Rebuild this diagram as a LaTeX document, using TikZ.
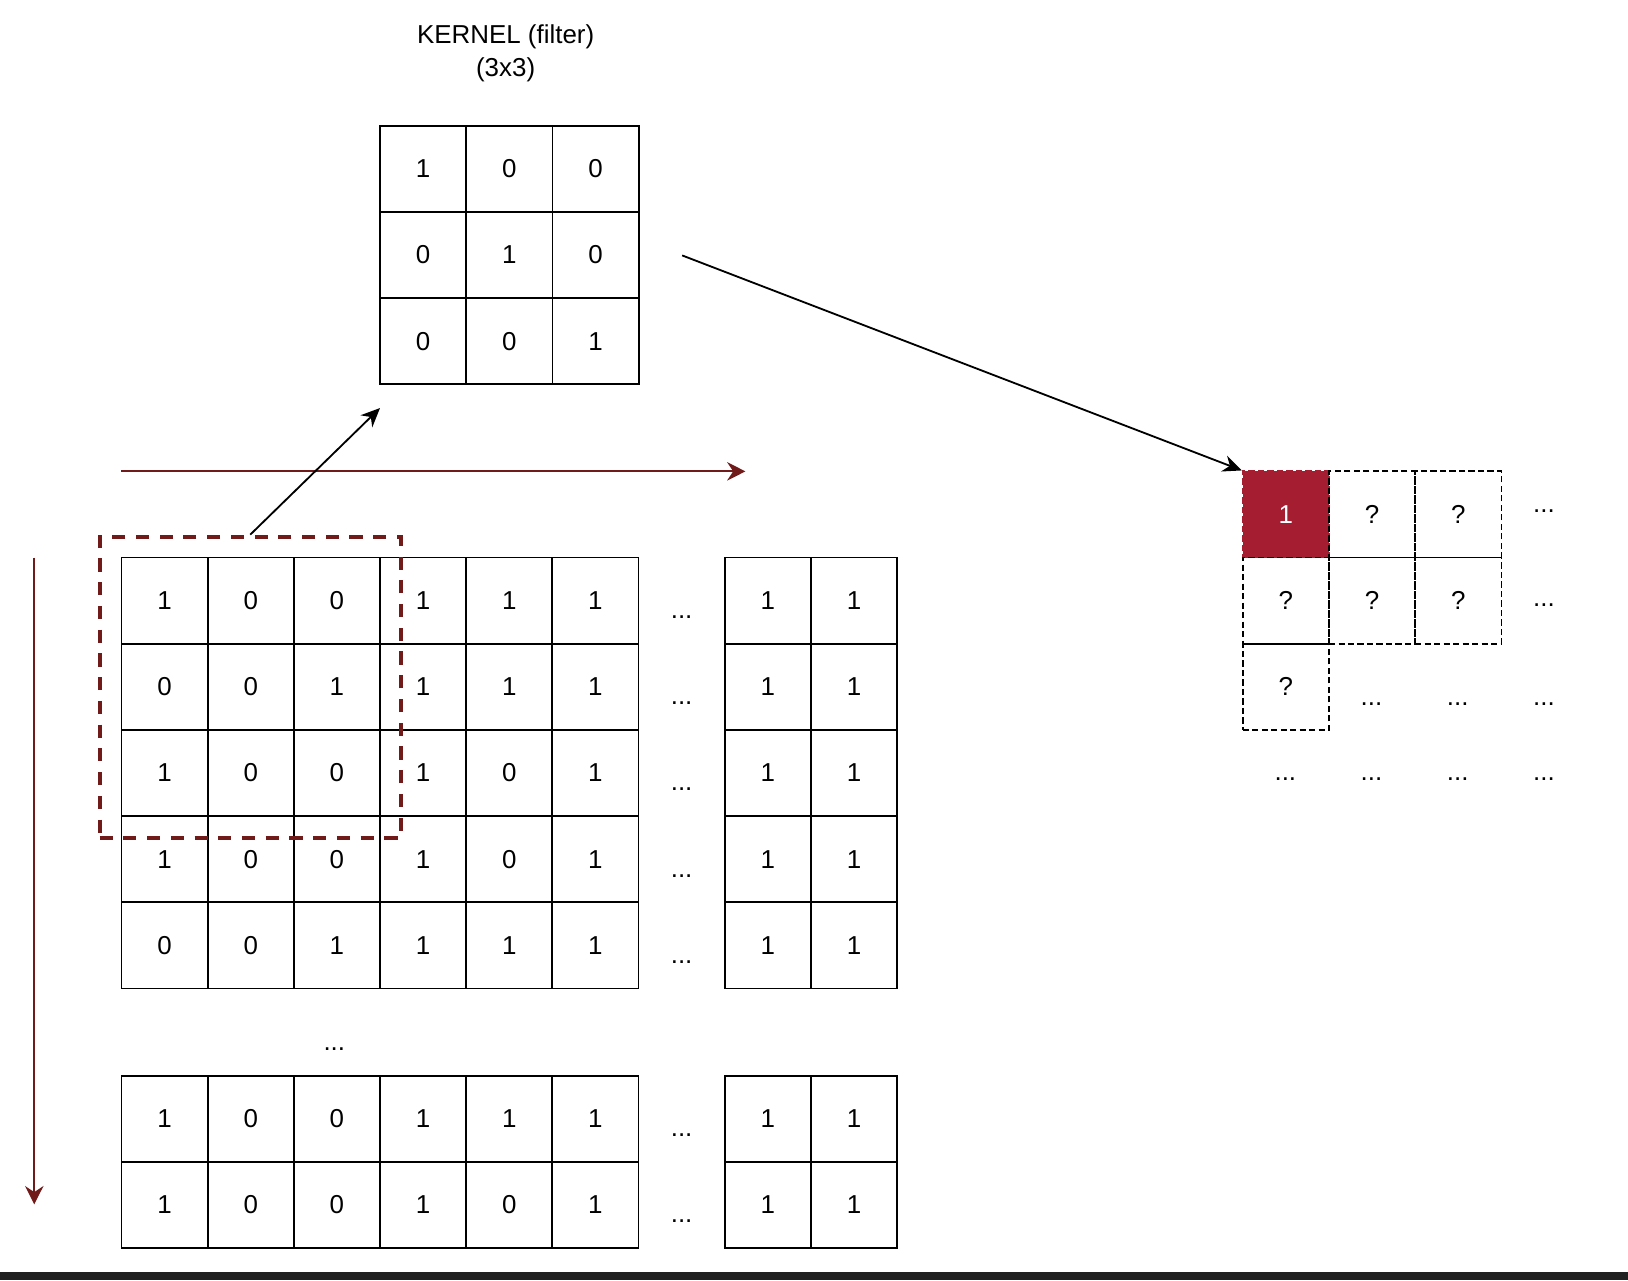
\documentclass[tikz,border=0pt]{standalone}
\usepackage{fontspec}
\setmainfont{Liberation Sans}
\usetikzlibrary{arrows.meta}

\definecolor{darkred}{HTML}{701A1A}
\definecolor{cellred}{HTML}{A51D31}

\begin{document}
\begin{tikzpicture}[x=0.01cm,y=-0.01cm,node distance=0.83cm,
                    every node/.style={font=\fontsize{7.1}{9.1}\selectfont},
                    cell/.style={draw,line width=0.5pt,minimum size=0.83cm,inner sep=0pt},
                    outcell/.style={draw,dash pattern=on 1.7pt off 0.9pt,line width=0.5pt,minimum size=0.83cm,inner sep=0pt},
                    dots/.style={inner sep=0pt},
                    slide/.style={-{Stealth[length=5pt,width=5pt]},darkred,line width=0.6pt},
                    link/.style={-{Stealth[length=5.2pt,width=4.6pt]},line width=0.5pt}]

  \fill[white] (0,0) rectangle (1568,1233);
  \useasboundingbox (0,0) rectangle (1568,1233);
  \fill[black!87] (0,1225) rectangle (1568,1233);

  % kernel
  \node (title) at (487,51) [align=center] {KERNEL (filter)\\(3x3)};
  \node[cell] (k11) at (407.5,162.5) {1};
  \node[cell] (k12) [right of=k11] {0};
  \node[cell] (k13) [right of=k12] {0};
  \node[cell] (k21) [below of=k11] {0};
  \node[cell] (k22) [right of=k21] {1};
  \node[cell] (k23) [right of=k22] {0};
  \node[cell] (k31) [below of=k21] {0};
  \node[cell] (k32) [right of=k31] {0};
  \node[cell] (k33) [right of=k32] {1};

  % input image
  \foreach \row [count=\r] in {{1,0,0,1,1,1,1,1},{0,0,1,1,1,1,1,1},{1,0,0,1,0,1,1,1},
                               {1,0,0,1,0,1,1,1},{0,0,1,1,1,1,1,1},{1,0,0,1,1,1,1,1},
                               {1,0,0,1,0,1,1,1}} {
    \pgfmathsetmacro{\cy}{495.5+83*\r+84*(\r>5)}
    \foreach \v [count=\c] in \row {
      \pgfmathsetmacro{\cx}{75.5+83*\c+83*(\c>6)}
      \node[cell] (m\r\c) at (\cx,\cy) {\v};
    }
    \node[dots] (gap\r) at (656.5,\cy+16) {...};
  }
  \node[dots] (skip) at (322,1010) {...};

  % sliding window
  \node[draw=darkred,line width=1.1pt,dash pattern=on 3.6pt off 2.9pt,
        minimum width=2.9cm,minimum height=2.9cm,inner sep=0pt] (win) at (241,662) {};

  % feature map
  \node[outcell,fill=cellred,draw=cellred,text=white] (o11) at (1238.5,495.5) {1};
  \node[outcell] (o12) [right of=o11] {?};
  \node[outcell] (o13) [right of=o12] {?};
  \node[outcell] (o21) [below of=o11] {?};
  \node[outcell] (o22) [right of=o21] {?};
  \node[outcell] (o23) [right of=o22] {?};
  \node[outcell] (o31) [below of=o21] {?};
  \foreach \p [count=\i] in {(1487,492),(1487,583),(1321,678),(1404,678),(1487,678),
                             (1238,750),(1321,750),(1404,750),(1487,750)}
    \node[dots] (od\i) at \p {...};

  \coordinate (kin) at (366,393);
  \coordinate (kout) at (657,246);
  \coordinate (hs) at (117,454);
  \coordinate (he) at (718,454);
  \coordinate (vs) at (33,537);
  \coordinate (ve) at (33,1160);
  \draw[slide] (hs) -- (he);
  \draw[slide] (vs) -- (ve);
  \draw[link] (win.north) -- (kin);
  \draw[link] (kout) -- (o11.north west);
\end{tikzpicture}
\end{document}
